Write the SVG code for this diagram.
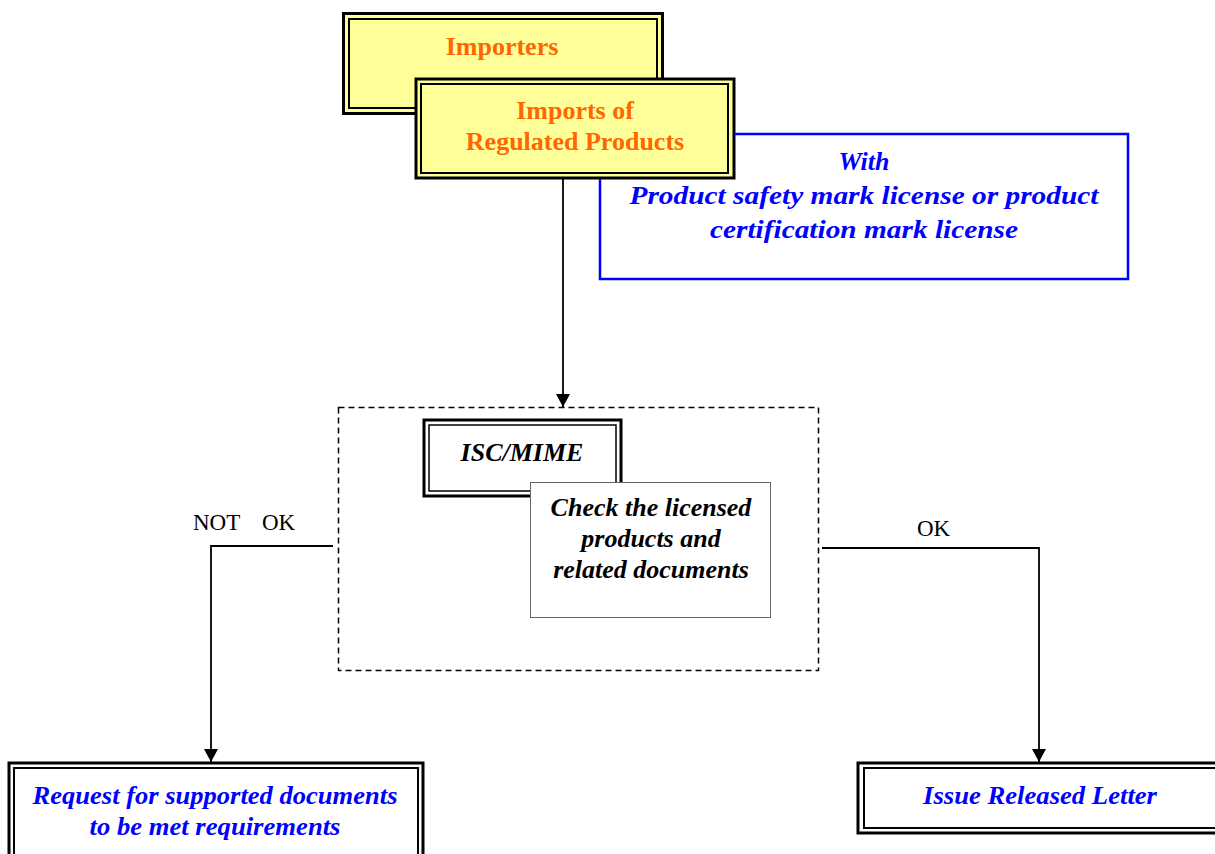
<svg xmlns="http://www.w3.org/2000/svg" width="1215" height="854" viewBox="0 0 1215 854">
<style>
.ob{font-family:"Liberation Serif","Times New Roman",serif;font-weight:bold;font-size:26px;fill:#FF6600;text-anchor:middle}
.bl{font-family:"Liberation Serif","Times New Roman",serif;font-weight:bold;font-style:italic;font-size:26px;fill:#0000FF;text-anchor:middle}
.bk{font-family:"Liberation Serif","Times New Roman",serif;font-weight:bold;font-style:italic;font-size:26px;fill:#000;text-anchor:middle}
.lb{font-family:"Liberation Serif","Times New Roman",serif;font-size:23px;fill:#000}
.outer{stroke:#000;stroke-width:3}
.inner{stroke:#000;stroke-width:2;fill:none}
.conn{fill:none;stroke:#000;stroke-width:1.8}
</style>
<defs>
<marker id="arr" markerUnits="userSpaceOnUse" markerWidth="16" markerHeight="16" refX="13" refY="7" orient="auto">
<path d="M0,0 L13,7 L0,14 Z" fill="#000"/>
</marker>
</defs>
<rect width="1215" height="854" fill="#fff"/>
<g id="importers">
<rect class="outer" x="343.5" y="13.5" width="319" height="100" fill="#FFFF99"/>
<rect class="inner" x="349" y="19" width="308" height="89"/>
<text class="ob" x="502" y="55">Importers</text>
</g>
<g id="imports">
<rect class="outer" x="416" y="79" width="318" height="99" fill="#FFFF99"/>
<rect class="inner" x="421" y="84" width="307" height="89"/>
<text class="ob" x="575" y="119">Imports of</text>
<text class="ob" x="575" y="150">Regulated Products</text>
</g>
<g id="license">
<path d="M734,134 H1128 V279 H600 V179" fill="none" stroke="#0000FF" stroke-width="2.5"/>
<text class="bl" x="864" y="170">With</text>
<text class="bl" x="864" y="204" textLength="469" lengthAdjust="spacingAndGlyphs">Product safety mark license or product</text>
<text class="bl" x="864" y="238" textLength="308" lengthAdjust="spacingAndGlyphs">certification mark license</text>
</g>
<g id="check-group">
<rect x="338.5" y="407.5" width="480" height="263" fill="none" stroke="#000" stroke-width="1.5" stroke-dasharray="6 4"/>
</g>
<g id="isc">
<rect class="outer" x="424" y="420" width="197" height="76" fill="#fff"/>
<rect x="429" y="425" width="187" height="66" fill="none" stroke="#000" stroke-width="1.5"/>
<text class="bk" x="522" y="461">ISC/MIME</text>
</g>
<g id="check">
<rect x="530.5" y="482.5" width="240" height="135" fill="#fff" stroke="#666" stroke-width="1"/>
<text class="bk" x="651" y="516">Check the licensed</text>
<text class="bk" x="651" y="547">products and</text>
<text class="bk" x="651" y="578">related documents</text>
</g>
<g id="request">
<rect class="outer" x="9" y="763" width="414" height="110" fill="#fff"/>
<rect class="inner" x="14" y="768" width="404" height="110"/>
<text class="bl" x="215" y="804" textLength="365" lengthAdjust="spacingAndGlyphs">Request for supported documents</text>
<text class="bl" x="215" y="835" textLength="251" lengthAdjust="spacingAndGlyphs">to be met requirements</text>
</g>
<g id="issue">
<rect class="outer" x="858" y="763" width="380" height="70" fill="#fff"/>
<rect class="inner" x="864" y="768" width="370" height="60"/>
<text class="bl" x="1040" y="804" textLength="234" lengthAdjust="spacingAndGlyphs">Issue Released Letter</text>
</g>
<g id="connectors">
<path class="conn" d="M563,179 V407" marker-end="url(#arr)"/>
<path class="conn" d="M333,546 H211 V762" marker-end="url(#arr)"/>
<path class="conn" d="M822,548 H1039 V762" marker-end="url(#arr)"/>
<text class="lb" x="193" y="530">NOT</text>
<text class="lb" x="262" y="530">OK</text>
<text class="lb" x="917" y="536">OK</text>
</g>
</svg>
